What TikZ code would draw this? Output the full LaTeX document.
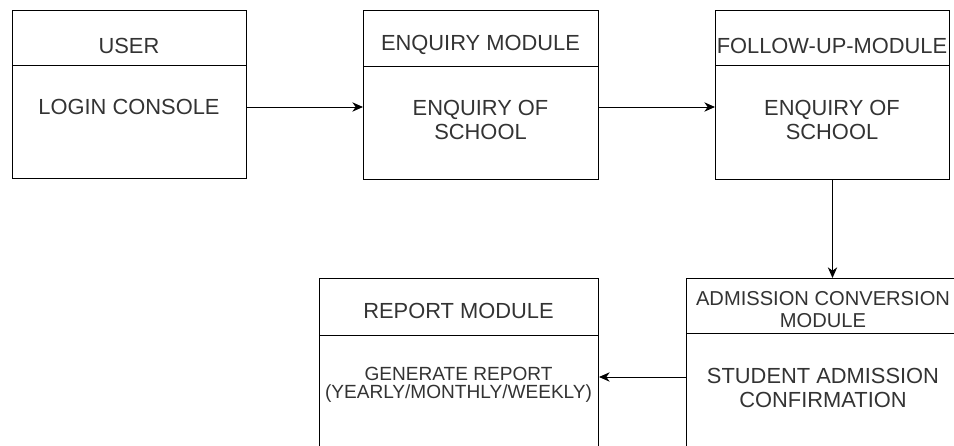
\documentclass[tikz,border=0pt]{standalone}
\usepackage{fontspec}
\setmainfont{Liberation Sans}
\usetikzlibrary{arrows.meta,calc}
\definecolor{txt}{HTML}{333333}
\tikzset{
  box/.style={draw=black, line width=0.75pt, anchor=north west, inner sep=0pt},
  lbl/.style={text=txt, font=\fontsize{16.4}{18}\selectfont, align=center, inner sep=0pt},
  small/.style={text=txt, font=\fontsize{14.3}{13.5}\selectfont, align=center, inner sep=0pt},
  hdr/.style={text=txt, font=\fontsize{15.1}{16.5}\selectfont, align=center, inner sep=0pt},
  conn/.style={line width=0.75pt, -{Stealth[length=8pt,width=7pt,inset=2.5pt]}},
  divider/.style={line width=0.75pt}
}
\begin{document}
\begin{tikzpicture}[x=0.75pt,y=-0.75pt]
\useasboundingbox (0,0) rectangle (954,446);
\clip (0,0) rectangle (954,446);
% boxes
\node[box, minimum width=175.5pt, minimum height=126pt] (b1) at (12,10) {};
\node[box, minimum width=176.25pt, minimum height=126.75pt] (b2) at (363,10) {};
\node[box, minimum width=175.5pt, minimum height=126.75pt] (b3) at (715,10) {};
\node[box, minimum width=205.5pt, minimum height=150pt] (ad) at (686,278) {};
\node[box, minimum width=209.25pt, minimum height=150pt] (rp) at (319,278) {};
% dividers
\draw[divider] ($(b1.north west)+(0,55)$) -- ($(b1.north east)+(0,55)$);
\draw[divider] ($(b2.north west)+(0,56)$) -- ($(b2.north east)+(0,56)$);
\draw[divider] ($(b3.north west)+(0,55)$) -- ($(b3.north east)+(0,55)$);
\draw[divider] ($(ad.north west)+(0,55)$) -- ($(ad.north east)+(0,55)$);
\draw[divider] ($(rp.north west)+(0,57)$) -- ($(rp.north east)+(0,57)$);
% texts
\node[lbl] (h1) at (129,45.5) {USER};
\node[lbl] (t1) at (129,107) {LOGIN CONSOLE};
\node[lbl] (h2) at (480.5,45) {ENQUIRY MODULE};
\node[lbl] (t2) at (480.5,120) {ENQUIRY OF\\SCHOOL};
\node[lbl] (h3) at (832,45.5) {FOLLOW-UP-MODULE};
\node[lbl] (t3) at (832,120) {ENQUIRY OF\\SCHOOL};
\node[hdr] (h4) at (823,310) {ADMISSION CONVERSION\\MODULE};
\node[lbl] (t4) at (823,388) {STUDENT ADMISSION\\CONFIRMATION};
\node[lbl] (h5) at (458.5,310.5) {REPORT MODULE};
\node[small] (t5) at (458.5,385) {GENERATE REPORT\\(YEARLY/MONTHLY/WEEKLY)};
% connectors
\coordinate (ra) at (686,377);
\draw[conn] (b1.east |- t1) -- (b2.west |- t1);
\draw[conn] (b2.east |- t1) -- (b3.west |- t1);
\draw[conn] (b3.south) -- (b3.south |- ad.north);
\draw[conn] (ra) -- (rp.east |- ra);
\end{tikzpicture}
\end{document}
